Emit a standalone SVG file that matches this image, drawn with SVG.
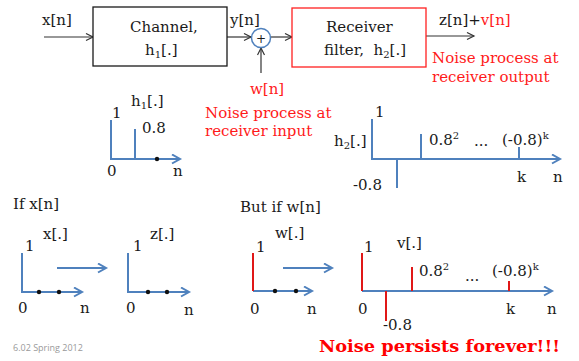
<svg xmlns="http://www.w3.org/2000/svg" width="579" height="361" viewBox="0 0 579 361">
<defs>
<style>
text{font-family:"DejaVu Serif","Liberation Serif",serif;font-size:15px;fill:#1a1a1a}
.r{fill:#ff1a1a}
.sub{font-size:10px}
.box{fill:#fff;stroke:#1a1a1a;stroke-width:1.3}
.rbox{fill:#fff;stroke:#ff2020;stroke-width:1.3}
.blk{stroke:#333;stroke-width:1.2;fill:none;marker-end:url(#ab)}
.ax{stroke:#4f81bd;stroke-width:2;fill:none}
.axa{stroke:#4f81bd;stroke-width:2;fill:none;marker-end:url(#abl)}
.st{stroke:#4f81bd;stroke-width:2}
.rst{stroke:#e01818;stroke-width:2}
.dot{fill:#111}
</style>
<marker id="ab" markerWidth="10" markerHeight="10" refX="8" refY="4" orient="auto" markerUnits="userSpaceOnUse"><path d="M1,0.5 L8,4 L1,7.5" fill="none" stroke="#333" stroke-width="1.2"/></marker>
<marker id="abl" markerWidth="12" markerHeight="12" refX="9" refY="5" orient="auto" markerUnits="userSpaceOnUse"><path d="M1,0.5 L9,5 L1,9.5" fill="none" stroke="#4f81bd" stroke-width="2"/></marker>
</defs>
<rect width="579" height="361" fill="#fff"/>

<g id="connectors">
<line class="blk" x1="44" y1="37" x2="93" y2="37"/>
<line class="blk" x1="227" y1="37" x2="251" y2="37"/>
<line class="blk" x1="261" y1="73" x2="261" y2="48"/>
<line class="blk" x1="271" y1="37" x2="292" y2="37"/>
<line class="blk" x1="426" y1="36" x2="474" y2="36"/>
</g>

<g id="labels-top">
<text x="42" y="25">x[n]</text>
<text x="230" y="25">y[n]</text>
<text class="r" x="250" y="94">w[n]</text>
<text x="439" y="25">z[n]+<tspan class="r">v[n]</tspan></text>
<text class="r" x="432" y="63">Noise process at</text>
<text class="r" x="432" y="82">receiver output</text>
<text class="r" x="205" y="118">Noise process at</text>
<text class="r" x="205" y="136">receiver input</text>
</g>

<g id="channel">
<rect class="box" x="93" y="7" width="134" height="59"/>
<text x="130" y="32">Channel,</text>
<text x="145" y="55">h<tspan class="sub" dy="3">1</tspan><tspan dy="-3">[.]</tspan></text>
</g>

<g id="sum">
<circle cx="261" cy="38" r="9.5" fill="#fff" stroke="#4f81bd" stroke-width="1.5"/>
<text x="261" y="42.5" text-anchor="middle" style="font-size:12px">+</text>
</g>

<g id="receiver">
<rect class="rbox" x="292" y="8" width="134" height="59"/>
<text x="326" y="32">Receiver</text>
<text x="324" y="55" xml:space="preserve">filter,  h<tspan class="sub" dy="3">2</tspan><tspan dy="-3">[.]</tspan></text>
</g>

<g id="plot-h1">
<line class="ax" x1="111" y1="120" x2="111" y2="159"/>
<line class="axa" x1="110" y1="159" x2="180" y2="159"/>
<line class="st" x1="135" y1="129" x2="135" y2="159"/>
<circle class="dot" cx="157" cy="159" r="2.2"/>
<text x="131" y="106">h<tspan class="sub" dy="3">1</tspan><tspan dy="-3">[.]</tspan></text>
<text x="112" y="118">1</text>
<text x="142" y="133">0.8</text>
<text x="107" y="176">0</text>
<text x="173" y="176">n</text>
</g>

<g id="plot-h2">
<line class="ax" x1="372" y1="119" x2="372" y2="159"/>
<line class="axa" x1="371" y1="159" x2="560" y2="159"/>
<line class="st" x1="397" y1="159" x2="397" y2="188"/>
<line class="st" x1="421" y1="134" x2="421" y2="159"/>
<line class="st" x1="519" y1="147" x2="519" y2="159"/>
<text x="375" y="117">1</text>
<text x="334" y="146">h<tspan class="sub" dy="3">2</tspan><tspan dy="-3">[.]</tspan></text>
<text x="429" y="145">0.8<tspan class="sub" dy="-6">2</tspan></text>
<text x="474" y="146">...</text>
<text x="502" y="145">(-0.8)<tspan class="sub" dy="-6">k</tspan></text>
<text x="517" y="182">k</text>
<text x="553" y="182">n</text>
<text x="353" y="190">-0.8</text>
</g>

<g id="case-x">
<text x="13" y="209">If x[n]</text>
<line class="ax" x1="22" y1="253" x2="22" y2="292"/>
<line class="axa" x1="21" y1="292" x2="82" y2="292"/>
<circle class="dot" cx="39" cy="292" r="2.2"/>
<circle class="dot" cx="59" cy="292" r="2.2"/>
<text x="43" y="239">x[.]</text>
<text x="25" y="251">1</text>
<text x="18" y="313">0</text>
<text x="80" y="313">n</text>
<line class="axa" x1="57" y1="268" x2="106" y2="268"/>
<line class="ax" x1="128" y1="253" x2="128" y2="292"/>
<line class="axa" x1="127" y1="292" x2="189" y2="292"/>
<circle class="dot" cx="148" cy="292" r="2.2"/>
<circle class="dot" cx="167" cy="292" r="2.2"/>
<text x="150" y="239">z[.]</text>
<text x="133" y="251">1</text>
<text x="126" y="313">0</text>
<text x="184" y="315">n</text>
</g>

<g id="case-w">
<text x="240" y="212">But if w[n]</text>
<line class="axa" x1="253" y1="291" x2="312" y2="291"/>
<line class="rst" x1="253" y1="253" x2="253" y2="291"/>
<circle class="dot" cx="275" cy="291" r="2.2"/>
<circle class="dot" cx="296" cy="291" r="2.2"/>
<text x="275" y="238">w[.]</text>
<text x="256" y="252">1</text>
<text x="250" y="314">0</text>
<text x="307" y="314">n</text>
<line class="axa" x1="283" y1="268" x2="332" y2="268"/>
<line class="axa" x1="362" y1="291" x2="552" y2="291"/>
<line class="rst" x1="362" y1="253" x2="362" y2="291"/>
<line class="rst" x1="386" y1="291" x2="386" y2="321"/>
<line class="rst" x1="412" y1="267" x2="412" y2="291"/>
<line class="rst" x1="509" y1="281" x2="509" y2="291"/>
<text x="364" y="252">1</text>
<text x="397" y="248">v[.]</text>
<text x="419" y="276">0.8<tspan class="sub" dy="-6">2</tspan></text>
<text x="465" y="281">...</text>
<text x="492" y="276">(-0.8)<tspan class="sub" dy="-6">k</tspan></text>
<text x="358" y="314">0</text>
<text x="506" y="314">k</text>
<text x="547" y="314">n</text>
<text x="383" y="330">-0.8</text>
</g>

<text x="319" y="352" textLength="241" lengthAdjust="spacingAndGlyphs" style="font-size:17px;font-weight:bold;fill:#ff0000">Noise persists forever!!!</text>
<text x="13" y="351" style="font-family:'Open Sans','Liberation Sans',sans-serif;font-size:9px;fill:#999">6.02 Spring 2012</text>
</svg>
